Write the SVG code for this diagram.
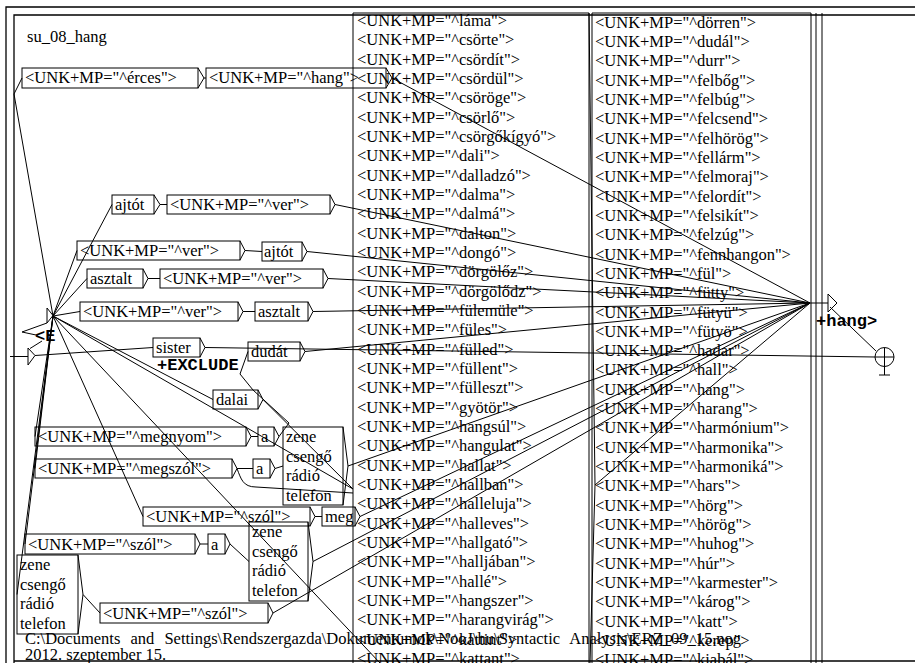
<svg xmlns="http://www.w3.org/2000/svg" width="915" height="663" viewBox="0 0 915 663">
<style>
.t{font-family:"Liberation Serif","Times New Roman",serif;font-size:16.5px;fill:#000}
.o{font-family:"Liberation Mono","Courier New",monospace;font-weight:bold;font-size:17px;fill:#000}
.bx{fill:none;stroke:#000;stroke-width:1}
.c{fill:none;stroke:#000;stroke-width:1}
.fr{fill:none;stroke:#000;stroke-width:1.3}
</style>
<rect width="915" height="663" fill="#fff"/>
<g id="frame">
<path class="fr" d="M6,663 V7 H915"/>
<path class="fr" d="M14,663 V15 H915"/>
<path class="fr" d="M14,661 H915"/>
<path class="c" d="M816,13 V663 M822,13 V663"/>
</g>
<g id="title" class="t"><text x="27" y="42">su_08_hang</text></g>
<g id="connectors">
<path class="c" d="M53,316 L14,94 L22,78"/>
<path class="c" d="M53,316 L112,204.5 M53,316 L77,250.5 M53,316 L87,278.5 M53,316 L80,311.5 M53,316 L213,399.5 M53,316 L353,489 M53,316 L35,436.5 M53,316 L35,468.5 M53,316 L143,516.5 M53,316 L25,544 M53,316 L17,594.5 M53,316 L380,663"/>
<path class="c" d="M204,78 H206 M392,78 L810,303"/>
<path class="c" d="M160,204.5 H167 M335,204.5 L810,303"/>
<path class="c" d="M245,250.5 L262,251.5 M307,251.5 L810,303"/>
<path class="c" d="M148,278.5 H160 M328,278.5 L810,303"/>
<path class="c" d="M243,311.5 H255 M313,311.5 L810,303"/>
<path class="c" d="M35,355.5 L153,347.5 M205,347.5 L875,357"/>
<path class="c" d="M305,351.5 L810,303"/>
<path class="c" d="M279,436.5 L289,423 L253,390 L240,374 L248,351.5"/>
<path class="c" d="M263,399.5 L353,489"/>
<path class="c" d="M251,436.5 H258 M237,468.5 H253 M275,468.5 L283,466"/>
<path class="c" d="M237,468.5 C241,479 243,487 256,487 L353,493"/>
<path class="c" d="M348,466 L810,303"/>
<path class="c" d="M315,516.5 H322 M360,516.5 L810,303"/>
<path class="c" d="M200,544 H208 M230,544 L249,561.5 M313,561.5 L810,303"/>
<path class="c" d="M83,594.5 L100,613 M273,613 L810,303"/>
<path class="c" d="M595,485 L810,303"/>
<path class="c" d="M810,303 H828 M830,307 L876,351"/>
<path class="c" d="M10,356.5 H28"/>
<path class="c" d="M47,323 L22,332 L36,335 M42,341 L30,348.5"/>
</g>
<g id="init">
<path class="c" d="M28,348 L35,355.5 L28,365 Z"/>
</g>
<g id="e-left">
<path class="c" d="M47,308 L53,315.5 L47,323 Z"/>
<text class="o" x="35" y="341">&lt;E</text>
</g>
<g id="e-right">
<path class="c" d="M828,294 L837,303 L828,312 Z"/>
<text class="o" x="816" y="326">+hang&gt;</text>
</g>
<g id="final">
<circle class="c" cx="884.5" cy="357" r="9.5"/>
<path class="c" d="M875,357 H894 M884.5,347.5 V375 M879,375 H890"/>
</g>
<g class="t">
<g id="n-erces"><rect class="bx" x="22" y="68" width="176" height="20"/><path class="c" d="M198,68 L204,78 L198,88"/><text x="25" y="83">&lt;UNK+MP="^érces"&gt;</text></g>
<g id="n-hang"><rect class="bx" x="206" y="68" width="180" height="20"/><path class="c" d="M386,68 L392,78 L386,88"/><text x="209" y="83">&lt;UNK+MP="^hang"&gt;</text></g>
<g id="n-ajtot1"><rect class="bx" x="112" y="195" width="42" height="19"/><path class="c" d="M154,195 L160,204.5 L154,214"/><text x="115" y="210">ajtót</text></g>
<g id="n-ver1"><rect class="bx" x="167" y="195" width="163" height="19"/><path class="c" d="M330,195 L335,204.5 L330,214"/><text x="170" y="210">&lt;UNK+MP="^ver"&gt;</text></g>
<g id="n-ver2"><rect class="bx" x="77" y="241" width="163" height="19"/><path class="c" d="M240,241 L245,250.5 L240,260"/><text x="80" y="256">&lt;UNK+MP="^ver"&gt;</text></g>
<g id="n-ajtot2"><rect class="bx" x="262" y="242" width="40" height="19"/><path class="c" d="M302,242 L307,251.5 L302,261"/><text x="264" y="257">ajtót</text></g>
<g id="n-asztalt1"><rect class="bx" x="87" y="269" width="56" height="19"/><path class="c" d="M143,269 L148,278.5 L143,288"/><text x="90" y="284">asztalt</text></g>
<g id="n-ver3"><rect class="bx" x="160" y="269" width="163" height="19"/><path class="c" d="M323,269 L328,278.5 L323,288"/><text x="163" y="284">&lt;UNK+MP="^ver"&gt;</text></g>
<g id="n-ver4"><rect class="bx" x="80" y="302" width="158" height="19"/><path class="c" d="M238,302 L243,311.5 L238,321"/><text x="83" y="317">&lt;UNK+MP="^ver"&gt;</text></g>
<g id="n-asztalt2"><rect class="bx" x="255" y="302" width="53" height="19"/><path class="c" d="M308,302 L313,311.5 L308,321"/><text x="258" y="317">asztalt</text></g>
<g id="n-sister"><rect class="bx" x="153" y="338" width="47" height="19"/><path class="c" d="M200,338 L205,347.5 L200,357"/><text x="156" y="353">sister</text><text class="o" x="157" y="370">+EXCLUDE</text></g>
<g id="n-dudat"><rect class="bx" x="248" y="342" width="52" height="19"/><path class="c" d="M300,342 L305,351.5 L300,361"/><text x="251" y="357">dudát</text></g>
<g id="n-dalai"><rect class="bx" x="213" y="390" width="45" height="19"/><path class="c" d="M258,390 L263,399.5 L258,409"/><text x="216" y="405">dalai</text></g>
<g id="n-megnyom"><rect class="bx" x="35" y="427" width="211" height="19"/><path class="c" d="M246,427 L251,436.5 L246,446"/><text x="38" y="442">&lt;UNK+MP="^megnyom"&gt;</text></g>
<g id="n-a1"><rect class="bx" x="258" y="427" width="16" height="19"/><path class="c" d="M274,427 L279,436.5 L274,446"/><text x="261" y="442">a</text></g>
<g id="n-megszol"><rect class="bx" x="35" y="459" width="197" height="19"/><path class="c" d="M232,459 L237,468.5 L232,478"/><text x="38" y="474">&lt;UNK+MP="^megszól"&gt;</text></g>
<g id="n-a2"><rect class="bx" x="253" y="459" width="17" height="19"/><path class="c" d="M270,459 L275,468.5 L270,478"/><text x="256" y="474">a</text></g>
<g id="n-zene1"><rect class="bx" x="283" y="427" width="60" height="78"/><path class="c" d="M343,427 L348,466 L343,505"/><text x="286" y="442">zene</text><text x="286" y="461.5">csengő</text><text x="286" y="481">rádió</text><text x="286" y="500.5">telefon</text></g>
<g id="n-szol1"><rect class="bx" x="143" y="507" width="167" height="19"/><path class="c" d="M310,507 L315,516.5 L310,526"/><text x="146" y="522">&lt;UNK+MP="^szól"&gt;</text></g>
<g id="n-meg"><rect class="bx" x="322" y="507" width="33" height="19"/><path class="c" d="M355,507 L360,516.5 L355,526"/><text x="325" y="522">meg</text></g>
<g id="n-szol2"><rect class="bx" x="25" y="534" width="170" height="20"/><path class="c" d="M195,534 L200,544 L195,554"/><text x="28" y="549.5">&lt;UNK+MP="^szól"&gt;</text></g>
<g id="n-a3"><rect class="bx" x="208" y="534" width="17" height="20"/><path class="c" d="M225,534 L230,544 L225,554"/><text x="211" y="549.5">a</text></g>
<g id="n-zene2"><rect class="bx" x="249" y="522" width="59" height="79"/><path class="c" d="M308,522 L313,561.5 L308,601"/><text x="252" y="537">zene</text><text x="252" y="556.5">csengő</text><text x="252" y="576">rádió</text><text x="252" y="595.5">telefon</text></g>
<g id="n-zene3"><rect class="bx" x="17" y="555" width="61" height="79"/><path class="c" d="M78,555 L83,594.5 L78,634"/><text x="20" y="570">zene</text><text x="20" y="589.5">csengő</text><text x="20" y="609">rádió</text><text x="20" y="628.5">telefon</text></g>
<g id="n-szol3"><rect class="bx" x="100" y="603" width="168" height="20"/><path class="c" d="M268,603 L273,613 L268,623"/><text x="103" y="618.5">&lt;UNK+MP="^szól"&gt;</text></g>
<g id="n-list1">
<path class="bx" d="M353,663 V13 H589 V663"/>
<path class="c" d="M589,13 L595,485 L590,663"/>
<text x="357">
<tspan x="357" y="26">&lt;UNK+MP="^láma"&gt;</tspan>
<tspan x="357" y="45.3">&lt;UNK+MP="^csörte"&gt;</tspan>
<tspan x="357" y="64.7">&lt;UNK+MP="^csördít"&gt;</tspan>
<tspan x="357" y="84">&lt;UNK+MP="^csördül"&gt;</tspan>
<tspan x="357" y="103.3">&lt;UNK+MP="^csöröge"&gt;</tspan>
<tspan x="357" y="122.7">&lt;UNK+MP="^csörlő"&gt;</tspan>
<tspan x="357" y="142">&lt;UNK+MP="^csörgőkígyó"&gt;</tspan>
<tspan x="357" y="161.3">&lt;UNK+MP="^dali"&gt;</tspan>
<tspan x="357" y="180.6">&lt;UNK+MP="^dalladzó"&gt;</tspan>
<tspan x="357" y="200">&lt;UNK+MP="^dalma"&gt;</tspan>
<tspan x="357" y="219.3">&lt;UNK+MP="^dalmá"&gt;</tspan>
<tspan x="357" y="238.6">&lt;UNK+MP="^dalton"&gt;</tspan>
<tspan x="357" y="258">&lt;UNK+MP="^dongó"&gt;</tspan>
<tspan x="357" y="277.3">&lt;UNK+MP="^dörgölőz"&gt;</tspan>
<tspan x="357" y="296.6">&lt;UNK+MP="^dörgölődz"&gt;</tspan>
<tspan x="357" y="316">&lt;UNK+MP="^fülemüle"&gt;</tspan>
<tspan x="357" y="335.3">&lt;UNK+MP="^füles"&gt;</tspan>
<tspan x="357" y="354.6">&lt;UNK+MP="^fülled"&gt;</tspan>
<tspan x="357" y="373.9">&lt;UNK+MP="^füllent"&gt;</tspan>
<tspan x="357" y="393.3">&lt;UNK+MP="^fülleszt"&gt;</tspan>
<tspan x="357" y="412.6">&lt;UNK+MP="^gyötör"&gt;</tspan>
<tspan x="357" y="431.9">&lt;UNK+MP="^hangsúl"&gt;</tspan>
<tspan x="357" y="451.3">&lt;UNK+MP="^hangulat"&gt;</tspan>
<tspan x="357" y="470.6">&lt;UNK+MP="^hallat"&gt;</tspan>
<tspan x="357" y="489.9">&lt;UNK+MP="^hallban"&gt;</tspan>
<tspan x="357" y="509.3">&lt;UNK+MP="^halleluja"&gt;</tspan>
<tspan x="357" y="528.6">&lt;UNK+MP="^halleves"&gt;</tspan>
<tspan x="357" y="547.9">&lt;UNK+MP="^hallgató"&gt;</tspan>
<tspan x="357" y="567.2">&lt;UNK+MP="^halljában"&gt;</tspan>
<tspan x="357" y="586.6">&lt;UNK+MP="^hallé"&gt;</tspan>
<tspan x="357" y="605.9">&lt;UNK+MP="^hangszer"&gt;</tspan>
<tspan x="357" y="625.2">&lt;UNK+MP="^harangvirág"&gt;</tspan>
<tspan x="357" y="644.6">&lt;UNK+MP="^kattint"&gt;</tspan>
<tspan x="357" y="663.9">&lt;UNK+MP="^kattant"&gt;</tspan>
</text>
</g>
<g id="n-list2">
<path class="bx" d="M592,663 V13 H811 V663"/>
<text x="595">
<tspan x="595" y="27.5">&lt;UNK+MP="^dörren"&gt;</tspan>
<tspan x="595" y="46.8">&lt;UNK+MP="^dudál"&gt;</tspan>
<tspan x="595" y="66.2">&lt;UNK+MP="^durr"&gt;</tspan>
<tspan x="595" y="85.5">&lt;UNK+MP="^felbőg"&gt;</tspan>
<tspan x="595" y="104.8">&lt;UNK+MP="^felbúg"&gt;</tspan>
<tspan x="595" y="124.2">&lt;UNK+MP="^felcsend"&gt;</tspan>
<tspan x="595" y="143.5">&lt;UNK+MP="^felhörög"&gt;</tspan>
<tspan x="595" y="162.8">&lt;UNK+MP="^fellárm"&gt;</tspan>
<tspan x="595" y="182.1">&lt;UNK+MP="^felmoraj"&gt;</tspan>
<tspan x="595" y="201.5">&lt;UNK+MP="^felordít"&gt;</tspan>
<tspan x="595" y="220.8">&lt;UNK+MP="^felsikít"&gt;</tspan>
<tspan x="595" y="240.1">&lt;UNK+MP="^felzúg"&gt;</tspan>
<tspan x="595" y="259.5">&lt;UNK+MP="^fennhangon"&gt;</tspan>
<tspan x="595" y="278.8">&lt;UNK+MP="^fül"&gt;</tspan>
<tspan x="595" y="298.1">&lt;UNK+MP="^fütty"&gt;</tspan>
<tspan x="595" y="317.5">&lt;UNK+MP="^fütyü"&gt;</tspan>
<tspan x="595" y="336.8">&lt;UNK+MP="^fütyö"&gt;</tspan>
<tspan x="595" y="356.1">&lt;UNK+MP="^hadar"&gt;</tspan>
<tspan x="595" y="375.4">&lt;UNK+MP="^hall"&gt;</tspan>
<tspan x="595" y="394.8">&lt;UNK+MP="^hang"&gt;</tspan>
<tspan x="595" y="414.1">&lt;UNK+MP="^harang"&gt;</tspan>
<tspan x="595" y="433.4">&lt;UNK+MP="^harmónium"&gt;</tspan>
<tspan x="595" y="452.8">&lt;UNK+MP="^harmonika"&gt;</tspan>
<tspan x="595" y="472.1">&lt;UNK+MP="^harmoniká"&gt;</tspan>
<tspan x="595" y="491.4">&lt;UNK+MP="^hars"&gt;</tspan>
<tspan x="595" y="510.8">&lt;UNK+MP="^hörg"&gt;</tspan>
<tspan x="595" y="530.1">&lt;UNK+MP="^hörög"&gt;</tspan>
<tspan x="595" y="549.4">&lt;UNK+MP="^huhog"&gt;</tspan>
<tspan x="595" y="568.7">&lt;UNK+MP="^húr"&gt;</tspan>
<tspan x="595" y="588.1">&lt;UNK+MP="^karmester"&gt;</tspan>
<tspan x="595" y="607.4">&lt;UNK+MP="^károg"&gt;</tspan>
<tspan x="595" y="626.7">&lt;UNK+MP="^katt"&gt;</tspan>
<tspan x="595" y="646.1">&lt;UNK+MP="^kerep"&gt;</tspan>
<tspan x="595" y="665.4">&lt;UNK+MP="^kiabál"&gt;</tspan>
</text>
</g>
<g id="footer">
<text x="25" y="644" word-spacing="6">C:\Documents and Settings\Rendszergazda\Dokumentumok\NooJ\hu\Syntactic Analysis\ERZ_09_15.nog</text>
<text x="25" y="660">2012. szeptember 15.</text>
</g>
</g>
</svg>
